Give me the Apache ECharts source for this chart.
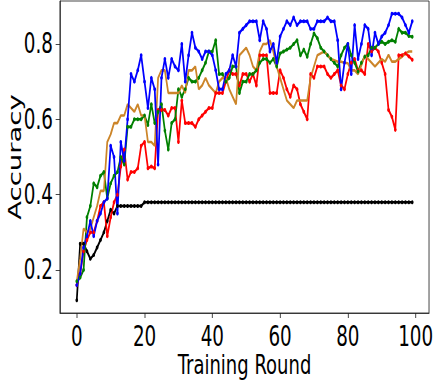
<!DOCTYPE html>
<html><head><meta charset="utf-8">
<script src="https://cdn.jsdelivr.net/npm/echarts@6/dist/echarts.min.js"></script>
<style>html,body{margin:0;padding:0;background:#fff;overflow:hidden;width:436px;height:381px}
#c{width:654px;height:381px;transform:scaleX(0.6667);transform-origin:0 0}</style>
</head><body><div id="c"></div>
<script>
const rounds = Array.from({length:100},(_,i)=>i);
const xTicks = [0,20,40,60,80,100];
const yTicks = [0.2,0.4,0.6,0.8];
const black = [0.12,0.27,0.27,0.25,0.23,0.24,0.26,0.28,0.30,0.33,0.36,0.35,0.37,0.37,0.37,0.37,0.37,0.37,0.37,0.37].concat(Array(80).fill(0.38));
const blue = [0.16,0.19,0.26,0.29,0.33,0.29,0.33,0.35,0.38,0.39,0.53,0.50,0.35,0.54,0.49,0.60,0.72,0.70,0.73,0.77,
0.70,0.63,0.71,0.68,0.48,0.71,0.76,0.71,0.76,0.74,0.73,0.80,0.70,0.77,0.83,0.79,0.78,0.76,0.78,0.78,
0.77,0.73,0.68,0.68,0.72,0.73,0.77,0.74,0.83,0.84,0.85,0.86,0.86,0.86,0.81,0.86,0.84,0.78,0.80,0.75,
0.82,0.84,0.86,0.85,0.87,0.85,0.86,0.86,0.86,0.84,0.84,0.86,0.86,0.86,0.87,0.86,0.86,0.81,0.68,0.75,
0.80,0.72,0.85,0.76,0.80,0.85,0.84,0.77,0.83,0.80,0.82,0.83,0.85,0.88,0.88,0.88,0.87,0.85,0.83,0.86];
const red = [0.16,0.19,0.25,0.28,0.30,0.30,0.33,0.37,0.38,0.29,0.34,0.38,0.40,0.475,0.52,0.44,0.46,0.46,0.47,0.53,
0.54,0.47,0.475,0.47,0.625,0.625,0.625,0.61,0.63,0.63,0.54,0.65,0.59,0.59,0.59,0.58,0.60,0.61,0.62,0.63,
0.63,0.67,0.67,0.67,0.70,0.73,0.72,0.72,0.69,0.72,0.72,0.70,0.72,0.69,0.77,0.77,0.77,0.67,0.67,0.67,
0.73,0.71,0.68,0.66,0.69,0.68,0.64,0.62,0.60,0.72,0.71,0.74,0.74,0.74,0.72,0.71,0.72,0.73,0.69,0.68,
0.72,0.75,0.76,0.73,0.73,0.72,0.80,0.78,0.79,0.78,0.75,0.72,0.625,0.607,0.572,0.77,0.77,0.775,0.767,0.758];
const green = [0.17,0.18,0.20,0.34,0.37,0.43,0.42,0.45,0.46,0.39,0.43,0.45,0.46,0.50,0.48,0.58,0.58,0.60,0.60,0.60,
0.61,0.585,0.64,0.59,0.62,0.64,0.57,0.52,0.59,0.60,0.68,0.66,0.68,0.71,0.70,0.70,0.71,0.73,0.75,0.78,
0.78,0.81,0.72,0.72,0.70,0.71,0.74,0.74,0.67,0.70,0.70,0.72,0.72,0.73,0.75,0.76,0.76,0.75,0.76,0.74,
0.775,0.78,0.785,0.79,0.80,0.81,0.77,0.785,0.766,0.80,0.828,0.815,0.79,0.78,0.77,0.76,0.75,0.74,0.77,0.79,
0.80,0.77,0.75,0.727,0.75,0.766,0.77,0.79,0.79,0.80,0.806,0.80,0.806,0.81,0.806,0.84,0.83,0.83,0.821,0.819];
const orange = [0.17,0.23,0.31,0.30,0.31,0.34,0.37,0.41,0.41,0.54,0.56,0.59,0.59,0.61,0.61,0.64,0.63,0.62,0.64,0.61,
0.61,0.54,0.54,0.53,0.71,0.73,0.73,0.67,0.67,0.67,0.67,0.69,0.67,0.73,0.73,0.74,0.68,0.69,0.71,0.69,
0.68,0.67,0.70,0.71,0.71,0.68,0.66,0.64,0.77,0.78,0.79,0.77,0.74,0.73,0.78,0.80,0.80,0.81,0.78,0.74,
0.71,0.68,0.65,0.64,0.63,0.65,0.65,0.65,0.65,0.71,0.74,0.77,0.775,0.78,0.77,0.76,0.757,0.753,0.753,0.75,
0.749,0.73,0.73,0.72,0.744,0.77,0.76,0.75,0.74,0.75,0.76,0.753,0.771,0.753,0.753,0.76,0.766,0.775,0.78,0.78];

const FONT = 'DejaVu Sans';
function mk(name, arr, color, sym){
  return {name, type:'line', data: rounds.map(i=>[i, arr[i]]), symbol: sym?'circle':'none', symbolSize:4,
    showSymbol: !!sym, lineStyle:{color, width:2.6}, itemStyle:{color}, animation:false};
}
const chart = echarts.init(document.getElementById('c'), null, {renderer:'svg'});
chart.setOption({
  animation:false,
  grid:{left:90, right:10.5, top:1, bottom:68, show:true, borderColor:'#222', borderWidth:1,
        containLabel:false, outerBoundsMode:'none'},
  xAxis:{type:'value', min:-4.95, max:103.95, name:'Training Round', nameLocation:'middle', nameGap:38,
    nameMoveOverlap:false,
    nameTextStyle:{fontFamily:FONT, fontSize:27, lineHeight:28, color:'#000'},
    axisLine:{show:true, onZero:false, lineStyle:{color:'#222', width:1}},
    axisTick:{show:true, length:5, lineStyle:{color:'#222'}, customValues:xTicks},
    axisLabel:{fontFamily:FONT, fontSize:27.5, lineHeight:28, color:'#000', margin:9.5, customValues:xTicks, formatter:v=>String(v)},
    splitLine:{show:false}},
  yAxis:{type:'value', min:0.086, max:0.914, name:'Accuracy', nameLocation:'middle', nameGap:54,
    nameMoveOverlap:false,
    nameTextStyle:{fontFamily:FONT, fontSize:27.5, color:'#000'},
    axisLine:{show:true, onZero:false, lineStyle:{color:'#222', width:1}},
    axisTick:{show:true, length:6.5, lineStyle:{color:'#222'}, customValues:yTicks},
    axisLabel:{fontFamily:FONT, fontSize:27.5, color:'#000', margin:10.5, customValues:yTicks, formatter:v=>v.toFixed(1)},
    splitLine:{show:false}},
  series:[
    mk('black', black, '#000000', true),
    mk('red', red, '#ff0000', true),
    mk('green', green, '#008000', true),
    mk('orange', orange, '#cc8529', false),
    mk('blue', blue, '#0000ff', true)
  ]
});
</script></body></html>
